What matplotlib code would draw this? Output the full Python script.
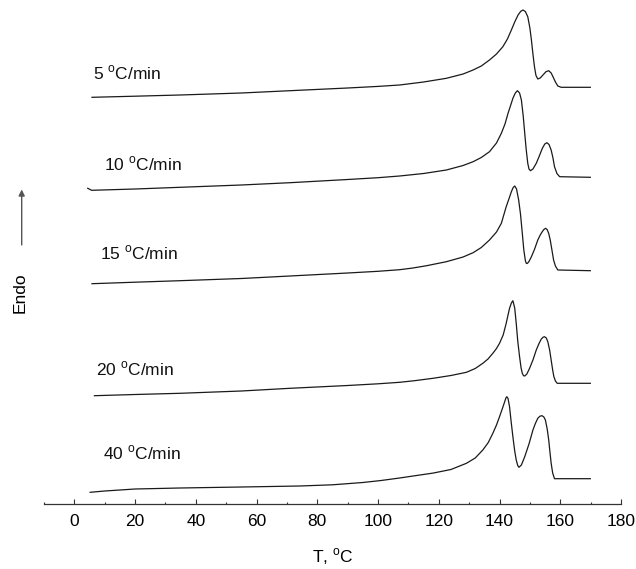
import matplotlib
matplotlib.use('Agg')
from matplotlib import pyplot as plt
from matplotlib.ticker import MultipleLocator

plt.rcParams['font.family'] = ['Liberation Sans', 'DejaVu Sans']
plt.rcParams['mathtext.fontset'] = 'custom'
plt.rcParams['mathtext.rm'] = 'Liberation Sans'

# DSC heating scans, heat flow in arbitrary units (curves already offset)
t_5 = [5.8, 20, 34.8, 55, 71, 90, 100, 107.1, 115, 122.5, 128, 131.3, 134,
       136.7, 139, 141.1, 142.6, 143.9, 145.0, 146.1, 147.0, 147.7, 148.5,
       149.3, 150.0, 150.5, 151.0, 151.5, 152.0, 152.6, 153.4, 154.3, 155.3,
       156.2, 157.0, 157.6, 158.4, 159.2, 160.3, 169.9]
q_5 = [406.7, 407.8, 409, 411, 413.3, 416, 417.6, 419, 422, 425.7, 430, 434,
       438, 444, 450, 457.3, 465, 474, 482, 489, 492.7, 494, 492.5,
       487.3, 476, 464, 450, 437.3, 428.5, 425, 426, 429, 432.3,
       433.3, 431, 427.3, 422, 418, 416.7, 416.7]

t_10 = [4.4, 5.7, 20, 34.8, 55, 71, 90, 100, 107.1, 115, 122.5, 128, 131.3,
        134, 136.7, 139, 140.6, 141.8, 142.8, 143.7, 144.4, 145.2, 145.9,
        146.6, 147.2, 147.8, 148.3, 148.8, 149.3, 149.7, 150.2, 151.0, 152.1,
        153.1, 154.1, 154.9, 155.6, 156.3, 157.0, 157.6, 158.1, 158.9, 159.8,
        169.9]
q_10 = [315.7, 313.7, 315, 316.7, 319, 321.3, 324.5, 326.3, 328, 330.5, 334,
        338.5, 342.3, 346.5, 352.3, 361, 370.7, 380, 390.7, 399, 405.7, 411,
        413.3, 411, 404, 388, 370.7, 354, 340.7, 335, 333.3, 335, 340.7,
        348, 355.7, 360, 361.3, 359.5, 354, 346, 337.3, 330.5, 327.3,
        326.7]

t_15 = [5.8, 20, 34.8, 55, 71, 90, 100, 107.1, 111.5, 116, 122.5, 128, 131.3,
        134, 136.7, 139, 140.6, 142.2, 143.2, 143.9, 144.5, 145.0, 145.6,
        146.3, 146.9, 147.5, 148.0, 148.5, 148.8, 149.1, 149.6, 150.5, 151.5,
        152.6, 153.4, 154.0, 154.6, 155.2, 155.7, 156.2, 156.7, 157.2, 157.8,
        158.4, 159.2, 169.9]
q_15 = [220.3, 221.8, 223.3, 225.5, 228, 231, 232.7, 234.3, 236, 238.3,
        242.3, 247, 251.3, 256.5, 264, 272, 280.7, 297.3, 306, 312.3, 316.5,
        318, 315, 304, 290, 270.7, 254, 243.5, 240.7, 240.5, 242, 247.3,
        254.5, 264, 269, 272, 274.5, 275.7, 274.3, 270.5, 264, 255, 244,
        238, 234, 233.3]

t_20 = [6.6, 20, 34.8, 55, 71, 90, 100, 107.1, 112, 118.1, 124, 129.1, 132,
        134.5, 136.2, 137.8, 139, 140.0, 141.2, 142.2, 142.8, 143.3, 143.9,
        144.4, 145.0, 145.5, 146.0, 146.6, 147.1, 147.5, 147.9, 148.3, 149.0,
        149.9, 151.0, 152.1, 153.0, 153.7, 154.3, 154.8, 155.4, 155.9, 156.5,
        157.0, 157.5, 157.9, 158.4, 159.0, 169.9]
q_20 = [108.3, 109.5, 110.7, 113, 115.7, 118.5, 120.2, 121.7, 123.3, 125.7,
        128.5, 131.7, 135.5, 140.7, 145, 150.7, 155.5, 160.7, 169, 180.7, 189,
        195.7, 201, 203.3, 196, 180.7, 163, 147.3, 136, 130.7, 128.3, 128,
        130, 135.7, 144, 154, 160.5, 164.7, 166.7, 167.3, 166, 162.3, 154,
        144, 134, 127.3, 123, 120.7, 120.7]

t_40 = [5.2, 10, 20, 34.8, 55, 74.2, 85, 95, 101, 107.1, 112, 118.1, 124,
        129.1, 132, 134.5, 136.3, 137.8, 139, 140.0, 141, 141.7, 142.1, 142.4,
        142.8, 143.3, 143.8, 144.4, 145, 145.5, 146, 146.4, 147.2, 148.3,
        149.7, 151.0, 151.8, 152.6, 153.3, 154.0, 154.6, 155.1, 155.7, 156.2,
        156.6, 157.0, 157.5, 158.1, 169.9]
q_40 = [11.7, 13, 15, 16, 17, 18, 19.2, 21.5, 23.5, 26, 28.2, 30.9, 34.5,
        40.7, 46, 54, 61.5, 70.7, 79, 87.3, 96, 102.3, 106, 107.3,
        105.5, 97.3, 83, 67.3, 53, 44, 38.5, 36.7, 39, 47.3,
        60, 74, 80.5, 85.7, 87.8, 88.3, 87, 84, 75, 64,
        52, 40.7, 31, 25.3, 25.3]

rates = ['5', '10', '15', '20', '40']
curves = [(t_5, q_5), (t_10, q_10), (t_15, q_15), (t_20, q_20), (t_40, q_40)]
label_t = [6.2, 9.8, 8.5, 7.1, 9.3]
label_q = [424.7, 333.3, 244.7, 129, 44.7]


def main():
    fig = plt.figure(figsize=(6.36, 5.69), dpi=100)
    ax = fig.add_axes([44 / 636, 65 / 569, 577 / 636, 504 / 569])

    for (t, q), r, lt, lq in zip(curves, rates, label_t, label_q):
        ax.plot(t, q, color='#1a1a1a', lw=0.9)
        ax.text(lt, lq, r + r' $^{\rm o}$C/min', fontsize=12.5,
                ha='left', va='baseline', color='#111111')

    ax.set_xlim(-10, 180)
    ax.set_ylim(0, 504)
    for s in ['top', 'right', 'left']:
        ax.spines[s].set_visible(False)
    ax.spines['bottom'].set_color('#333333')
    ax.spines['bottom'].set_linewidth(0.9)
    ax.set_yticks([])
    ax.xaxis.set_major_locator(MultipleLocator(20))
    ax.xaxis.set_minor_locator(MultipleLocator(10))
    ax.tick_params(axis='x', which='major', direction='in', length=3.6,
                   width=0.8, color='#333333', labelsize=12.5, pad=7)
    ax.tick_params(axis='x', which='minor', direction='in', length=1.8,
                   width=0.8, color='#333333')
    ax.set_xlabel(r'T, $^{\rm o}$C', fontsize=12.5, labelpad=13)

    # "Endo" label with an upward arrow
    fig.text(20 / 636, 1 - 292.5 / 569, 'Endo', rotation=90, fontsize=12.5,
             ha='center', va='center')
    ax.annotate('', xy=(21.7 / 636, 1 - 186.7 / 569),
                xytext=(21.7 / 636, 1 - 247.7 / 569),
                xycoords='figure fraction', textcoords='figure fraction',
                arrowprops=dict(arrowstyle='-|>', color='#555555', lw=1.0,
                                mutation_scale=9))

    fig.savefig('out.png', dpi=100)


if __name__ == '__main__':
    main()
